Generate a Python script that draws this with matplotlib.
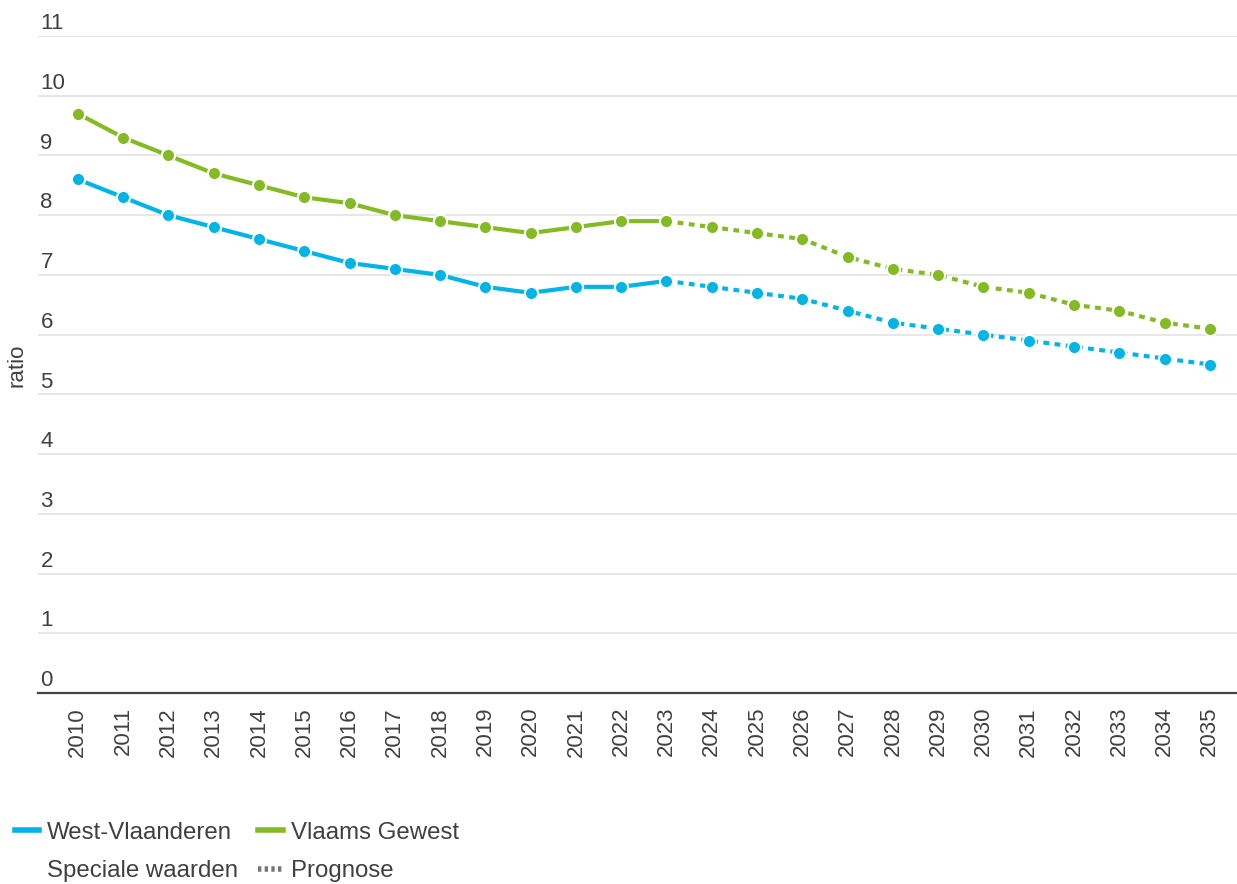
import matplotlib
matplotlib.use("Agg")
import matplotlib.pyplot as plt
from matplotlib.lines import Line2D
import matplotlib.transforms as mtransforms

plt.rcParams['font.family'] = ['Liberation Sans', 'DejaVu Sans']

years = list(range(2010, 2036))
west_vlaanderen = [8.6, 8.3, 8.0, 7.8, 7.6, 7.4, 7.2, 7.1, 7.0, 6.8, 6.7, 6.8, 6.8, 6.9,
                   6.8, 6.7, 6.6, 6.4, 6.2, 6.1, 6.0, 5.9, 5.8, 5.7, 5.6, 5.5]
vlaams_gewest = [9.7, 9.3, 9.0, 8.7, 8.5, 8.3, 8.2, 8.0, 7.9, 7.8, 7.7, 7.8, 7.9, 7.9,
                 7.8, 7.7, 7.6, 7.3, 7.1, 7.0, 6.8, 6.7, 6.5, 6.4, 6.2, 6.1]
forecast_start = 2023
y_ticks = list(range(0, 12))
series_names = ["West-Vlaanderen", "Vlaams Gewest"]

BLUE = "#00B5E6"
GREEN = "#84BA24"
TXT = "#404040"
FS = 16
LFS = 17.3

fig = plt.figure(figsize=(12.37, 8.84), dpi=100)
ax = fig.add_axes([38/1237, 1 - 693/884, 1 - 38/1237, (693 - 36)/884])

split = years.index(forecast_start)
for vals, col in [(west_vlaanderen, BLUE), (vlaams_gewest, GREEN)]:
    ax.plot(years[:split + 1], vals[:split + 1], color=col, lw=3.0, solid_capstyle='butt', zorder=3)
    ax.plot(years[split:], vals[split:], color=col, lw=3.0, linestyle=(0, (1.4, 1.3)),
            dash_capstyle='butt', zorder=3)
    ax.plot(years, vals, linestyle='none', marker='o', ms=9.5, mfc=col, mec='white', mew=1.5, zorder=4)

ax.set_ylim(0, 11)
ax.set_xlim(2009.12, 2035.6)
ax.set_yticks(y_ticks)
ax.yaxis.grid(True, color="#e3e3e3", lw=1.2)
ax.set_axisbelow(True)
ax.tick_params(axis='y', length=0, labelleft=False)
trans = mtransforms.blended_transform_factory(ax.transAxes, ax.transData)
for t in y_ticks:
    ax.text(0.002, t + 0.03, str(t), transform=trans, ha='left', va='bottom',
            fontsize=FS, color=TXT)

ax.set_xticks(years)
ax.set_xticklabels([str(y) for y in years], rotation=90, fontsize=FS, color=TXT)
ax.tick_params(axis='x', length=0, pad=10)

for s in ['top', 'right', 'left']:
    ax.spines[s].set_visible(False)
ax.spines['bottom'].set_color('#444444')
ax.spines['bottom'].set_linewidth(1.6)

fig.text(17/1237, 1 - 365/884, "ratio", rotation=90, ha='center', va='center',
         fontsize=FS, color=TXT)

handles = [
    Line2D([], [], color=BLUE, lw=4),
    Line2D([], [], color='none', lw=0),
    Line2D([], [], color=GREEN, lw=4),
    Line2D([], [], color='#777777', lw=4, linestyle=(0, (0.6, 0.6))),
]
labels = [series_names[0], "Speciale waarden", series_names[1], "Prognose"]
leg = fig.legend(handles, labels, ncol=2, loc='upper left',
                 bbox_to_anchor=(-7/1237, 1 - 800/884), frameon=False,
                 fontsize=LFS, handlelength=1.0, handletextpad=0.35,
                 columnspacing=0.85, labelspacing=0.7, labelcolor=TXT)

fig.savefig("out.png", dpi=100)
